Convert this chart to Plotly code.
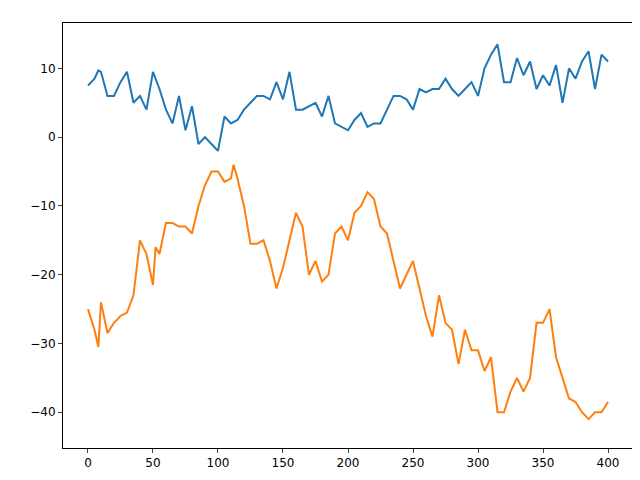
import plotly.graph_objects as go

x_blue = [0,5,8,10,15,20,25,30,35,40,45,50,55,60,65,70,75,80,85,90,95,100,105,110,115,120,125,130,135,140,145,150,155,160,165,170,175,180,185,190,195,200,205,210,215,220,225,230,235,240,245,250,255,260,265,270,275,280,285,290,295,300,305,310,315,320,325,330,335,340,345,350,355,360,365,370,375,380,385,390,395,400]
y_blue = [7.5,8.5,9.7,9.5,6,6,8,9.5,5,6,4,9.5,7,4,2,6,1,4.5,-1,0,-1,-2,3,2,2.5,4,5,6,6,5.5,8,5.5,9.5,4,4,4.5,5,3,6,2,1.5,1,2.5,3.5,1.5,2,2,4,6,6,5.5,4,7,6.5,7,7,8.5,7,6,7,8,6,10,12,13.5,8,8,11.5,9,11,7,9,7.5,10.5,5,10,8.5,11,12.5,7,12,11]

x_orange = [0,5,8,10,15,20,25,30,35,40,45,50,52,55,60,65,70,75,80,85,90,95,100,105,110,112,115,120,125,130,135,140,145,150,155,160,165,170,175,180,185,190,195,200,205,210,215,220,225,230,235,240,245,250,255,260,265,270,275,280,285,290,295,300,305,310,315,320,325,330,335,340,345,350,355,360,365,370,375,380,385,390,395,400]
y_orange = [-25,-28,-30.5,-24,-28.5,-27,-26,-25.5,-23,-15,-17,-21.5,-16,-17,-12.5,-12.5,-13,-13,-14,-10,-7,-5,-5,-6.5,-6,-4,-6,-10,-15.5,-15.5,-15,-18,-22,-19,-15,-11,-13,-20,-18,-21,-20,-14,-13,-15,-11,-10,-8,-9,-13,-14,-18,-22,-20,-18,-22,-26,-29,-23,-27,-28,-33,-28,-31,-31,-34,-32,-40,-40,-37,-35,-37,-35,-27,-27,-25,-32,-35,-38,-38.5,-40,-41,-40,-40,-38.5]

fig = go.Figure()
fig.add_trace(go.Scatter(x=x_blue, y=y_blue, mode="lines", line=dict(color="#1f77b4", width=2)))
fig.add_trace(go.Scatter(x=x_orange, y=y_orange, mode="lines", line=dict(color="#ff7f0e", width=2)))
ax = dict(showline=True, linecolor="black", mirror=True, ticks="outside", showgrid=False,
          zeroline=False, automargin=False,
          tickfont=dict(family="DejaVu Sans", size=12, color="black"), ticklen=4)
fig.update_layout(width=640, height=480, margin=dict(l=55, r=15, t=15, b=40, pad=0),
                  paper_bgcolor="white", plot_bgcolor="white", showlegend=False,
                  xaxis=dict(range=[-19.2, 419.2], tickvals=[0,50,100,150,200,250,300,350,400], **ax),
                  yaxis=dict(range=[-45.2, 16.6], tickvals=[-40,-30,-20,-10,0,10], **ax))
fig.write_html("out.html")
